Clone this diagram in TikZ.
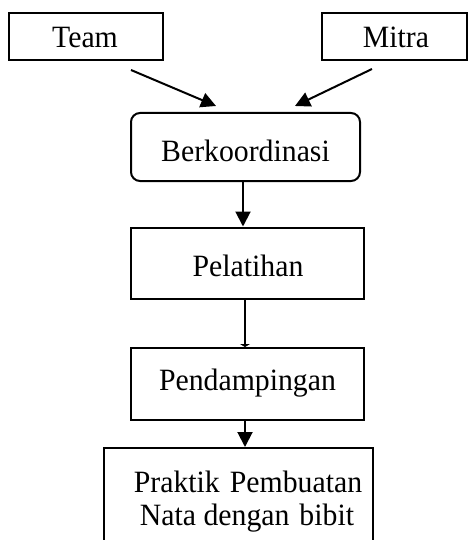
\documentclass[tikz,border=0pt]{standalone}
\usepackage{fontspec}
\setmainfont[FakeStretch=0.96]{Liberation Serif}
\usetikzlibrary{arrows.meta,calc}
\tikzset{
  box/.style={draw, line width=2pt, inner sep=0pt},
  txt/.style={font=\fontsize{31}{36}\selectfont, anchor=base, inner sep=0pt},
  arr/.style={line width=2pt, -{Triangle[length=15pt,width=15pt]}},
}
\begin{document}
\begin{tikzpicture}[x=1pt,y=-1pt]
\useasboundingbox (0,0) rectangle (468,540);
\clip (0,0) rectangle (468,540);
% boxes
\node[box, minimum width=154pt, minimum height=47pt] (team) at (86,36.5) {};
\node[box, minimum width=145pt, minimum height=47pt] (mitra) at (394.5,36.5) {};
\node[box, rounded corners=9pt, minimum width=229pt, minimum height=68pt] (berk) at (245.5,147) {};
\node[box, minimum width=233pt, minimum height=71pt] (pel) at (247.5,263) {};
\node[box, minimum width=233pt, minimum height=72pt] (pend) at (247.5,384) {};
\node[box, minimum width=269pt, minimum height=110pt] (prak) at (238.5,503) {};
% texts
\node[txt] (tteam) at (85,48) {Team};
\node[txt] (tmitra) at (396,48) {Mitra};
\node[txt] (tberk) at (245.5,161) {Berkoordinasi};
\node[txt] (tpel) at (248,276) {Pelatihan};
\node[txt] (tpend) at (247.5,390) {Pendampingan};
\node[txt] (tprak1) at (248,492) {Praktik\hspace{10pt}Pembuatan};
\node[txt] (tprak2) at (247,525) {Nata dengan\hspace{10pt}bibit};
% connectors
\draw[arr] ($(team.south)+(45,9)$) -- ($(berk.north)+(-29.5,-6)$);
\draw[arr] ($(mitra.south)+(-22.5,8)$) -- ($(berk.north)+(49.5,-6)$);
\draw[arr] ($(berk.south)+(-2.5,0)$) -- ($(pel.north)+(-4.5,0)$);
\draw[line width=2pt, -{Triangle[length=3pt,width=10pt]}] ($(pel.south)+(-2.5,0)$) -- ($(pend.north)+(-2.5,0)$);
\draw[arr] ($(pend.south)+(-2.5,0)$) -- ($(prak.north)+(6.5,0)$);
\end{tikzpicture}
\end{document}
